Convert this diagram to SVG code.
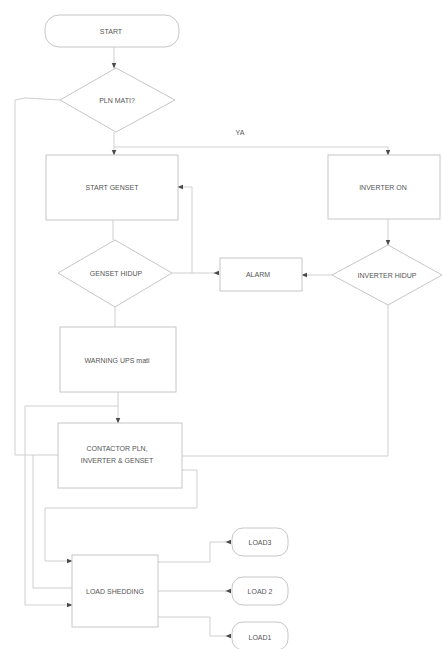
<svg xmlns="http://www.w3.org/2000/svg" width="443" height="649" viewBox="0 0 443 649">
<style>
.b{fill:#fff;stroke:#c6c6c6;stroke-width:1}
.t{font-family:"Liberation Sans",Arial,sans-serif;font-size:7px;fill:#555;text-anchor:middle;dominant-baseline:central}
.c{fill:none;stroke:#cfcfcf;stroke-width:1}
</style>
<defs>
<marker id="ah" viewBox="0 0 10 10" refX="9" refY="5" markerWidth="6" markerHeight="6" markerUnits="userSpaceOnUse" orient="auto"><path d="M0,1 L10,5 L0,9 z" fill="#4a4a4a"/></marker>
</defs>
<rect width="443" height="649" fill="#fff"/>
<g id="connectors">
<path class="c" d="M114,47 V68" marker-end="url(#ah)"/>
<path class="c" d="M114,132 V155" marker-end="url(#ah)"/>
<path class="c" d="M114,147 H388 V155" marker-end="url(#ah)"/>
<path class="c" d="M60,100 L25,98 L15,100 V455 H58"/>
<path class="c" d="M113,220 V240"/>
<path class="c" d="M214,273 H172" marker-start="url(#ah)"/>
<path class="c" d="M192,273 V187 H178" marker-end="url(#ah)"/>
<path class="c" d="M388,219 V245" marker-end="url(#ah)"/>
<path class="c" d="M332,275 H302" marker-end="url(#ah)"/>
<path class="c" d="M388,305 V456 H182"/>
<path class="c" d="M115,307 V327"/>
<path class="c" d="M118,392 V423" marker-end="url(#ah)"/>
<path class="c" d="M118,406 H25 V605 H72" marker-end="url(#ah)"/>
<path class="c" d="M33,455 V588 H72"/>
<path class="c" d="M182,470 H197 V508 H45 V561 H72" marker-end="url(#ah)"/>
<path class="c" d="M226,542 H210 V562 H158" marker-start="url(#ah)"/>
<path class="c" d="M226,591 H158" marker-start="url(#ah)"/>
<path class="c" d="M226,636 H210 V617 H158" marker-start="url(#ah)"/>
<text class="t" x="240" y="132">YA</text>
</g>
<g id="start"><rect class="b" x="45" y="15" width="134" height="32" rx="14"/><text class="t" x="111" y="31">START</text></g>
<g id="pln-mati"><polygon class="b" points="116,68 175,100 116,132 60,100"/><text class="t" x="117" y="100">PLN MATI?</text></g>
<g id="start-genset"><rect class="b" x="46" y="155" width="132" height="65"/><text class="t" x="112" y="187">START GENSET</text></g>
<g id="inverter-on"><rect class="b" x="328" y="155" width="112" height="64"/><text class="t" x="383" y="187">INVERTER ON</text></g>
<g id="genset-hidup"><polygon class="b" points="115,240 172,273 115,307 58,273"/><text class="t" x="116" y="273">GENSET HIDUP</text></g>
<g id="alarm"><rect class="b" x="220" y="258" width="82" height="33"/><text class="t" x="258" y="274">ALARM</text></g>
<g id="inverter-hidup"><polygon class="b" points="388,245 442,275 388,305 332,275"/><text class="t" x="387" y="275">INVERTER HIDUP</text></g>
<g id="warning"><rect class="b" x="60" y="327" width="116" height="65"/><text class="t" x="117" y="360">WARNING UPS mati</text></g>
<g id="contactor"><rect class="b" x="58" y="423" width="124" height="65"/><text class="t" x="117" y="448">CONTACTOR PLN,</text><text class="t" x="117" y="460">INVERTER &amp; GENSET</text></g>
<g id="load-shedding"><rect class="b" x="72" y="555" width="86" height="72"/><text class="t" x="115" y="591">LOAD SHEDDING</text></g>
<g id="load3"><rect class="b" x="232" y="528" width="56" height="28" rx="11"/><text class="t" x="260" y="542">LOAD3</text></g>
<g id="load2"><rect class="b" x="232" y="577" width="56" height="28" rx="11"/><text class="t" x="260" y="591">LOAD 2</text></g>
<g id="load1"><rect class="b" x="232" y="622" width="56" height="28" rx="11"/><text class="t" x="260" y="637">LOAD1</text></g>
</svg>
